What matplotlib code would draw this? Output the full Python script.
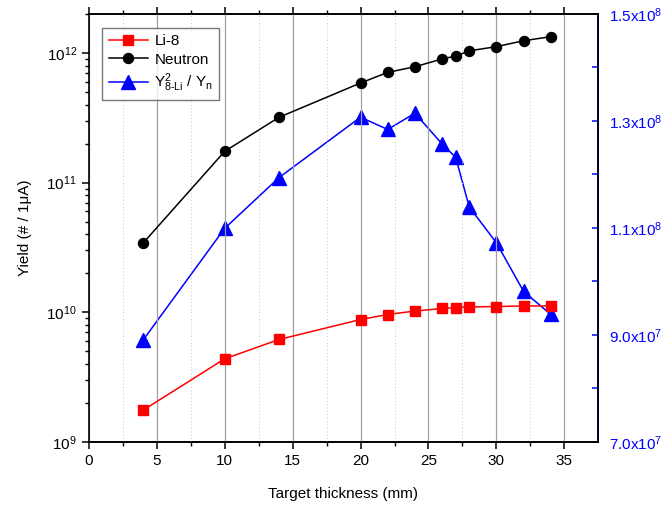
import numpy as np
import matplotlib.pyplot as plt
import matplotlib as mpl
from matplotlib.ticker import MultipleLocator, FixedLocator, FuncFormatter, LogLocator, NullFormatter

mpl.rcParams["font.family"] = ["Liberation Sans", "DejaVu Sans"]
mpl.rcParams["mathtext.fontset"] = "custom"
mpl.rcParams["mathtext.rm"] = "Liberation Sans"
mpl.rcParams["mathtext.it"] = "Liberation Sans"
mpl.rcParams["font.size"] = 11

# data
thickness = [4, 10, 14, 20, 22, 24, 26, 27, 28, 30, 32, 34]
li8 = [1.75e9, 4.36e9, 6.15e9, 8.77e9, 9.59e9, 1.02e10, 1.067e10, 1.085e10,
       1.097e10, 1.105e10, 1.116e10, 1.116e10]
neutron = [3.41e10, 1.74e11, 3.19e11, 5.87e11, 7.09e11, 7.84e11, 8.99e11, 9.48e11,
           1.04e12, 1.12e12, 1.245e12, 1.336e12]
ratio = [8.90e7, 1.099e8, 1.194e8, 1.307e8, 1.284e8, 1.3145e8, 1.257e8, 1.232e8,
         1.139e8, 1.072e8, 0.981e8, 0.938e8]
right_ticks = [7e7, 9e7, 1.1e8, 1.3e8, 1.5e8]

fig = plt.figure(figsize=(6.63, 5.08), dpi=100, facecolor="w")
ax = fig.add_axes([0.1338, 0.1305, 0.7677, 0.8419])
ax2 = ax.twinx()

l1, = ax.plot(thickness, li8, color="red", marker="s", ms=7.2, lw=1.1, label="Li-8")
l2, = ax.plot(thickness, neutron, color="black", marker="o", ms=7.2, lw=1.1, label="Neutron")
l3, = ax2.plot(thickness, ratio, color="blue", marker="^", ms=9.5, lw=1.1,
               label=r"Y$^{2}_{\mathregular{8\text{-}Li}}$ / Y$_{\mathregular{n}}$")

ax.set_yscale("log")
ax.set(xlim=(0, 37.45), ylim=(1e9, 2e12))
ax.xaxis.set_major_locator(MultipleLocator(5))
ax.xaxis.set_minor_locator(MultipleLocator(2.5))
ax.yaxis.set_major_locator(LogLocator(base=10, numticks=10))
ax.yaxis.set_minor_locator(LogLocator(base=10, subs=np.arange(2, 10), numticks=10))
ax.yaxis.set_minor_formatter(NullFormatter())

ax.grid(True, which="major", axis="x", color="#a0a0a0", lw=0.9)
ax.grid(True, which="minor", axis="x", color="#c8c8c8", lw=0.7, ls=(0, (1, 2.5)))
ax.set_axisbelow(True)

ax.tick_params(which="major", direction="out", length=5, width=1.1, labelsize=11)
ax.tick_params(which="minor", direction="out", length=3, width=1.0)
ax.tick_params(axis="x", which="both", top=True)
ax.set_xlabel("Target thickness (mm)", fontsize=11, labelpad=14)
ax.set_ylabel("Yield (# / 1μA)", fontsize=11, labelpad=10)

ax2.set_ylim(7e7, 1.5e8)
ax2.yaxis.set_major_locator(FixedLocator(right_ticks))
ax2.yaxis.set_minor_locator(MultipleLocator(1e7))


def sci_fmt(v, pos):
    e = int(np.floor(np.log10(v) + 1e-9))
    return r"%.1fx10$^{%d}$" % (v / 10 ** e, e)


ax2.yaxis.set_major_formatter(FuncFormatter(sci_fmt))
ax2.tick_params(axis="y", which="both", direction="in", length=4, width=1.1,
                colors="blue", labelsize=11, pad=8)
ax2.spines["right"].set_color("blue")

for a in (ax, ax2):
    for s in a.spines.values():
        s.set_linewidth(1.2)
ax2.spines["left"].set_visible(False)
ax2.spines["right"].set_linewidth(1.4)

leg = ax.legend(handles=[l1, l2, l3], loc="upper left", bbox_to_anchor=(0.012, 0.985),
                fontsize=11, frameon=True, fancybox=False, edgecolor="#555555",
                handlelength=2.6, borderpad=0.4, labelspacing=0.3, handletextpad=0.4)
leg.get_frame().set_linewidth(1.0)
leg.set_zorder(10)
ax.set_zorder(ax2.get_zorder() + 1)
ax.patch.set_visible(False)

fig.savefig("out.png", dpi=100)
